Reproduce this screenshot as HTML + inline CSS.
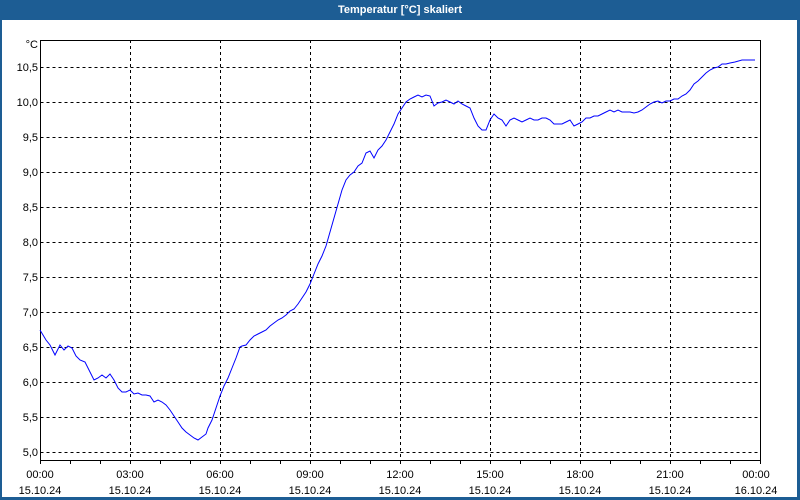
<!DOCTYPE html>
<html><head><meta charset="utf-8"><style>
html,body{margin:0;padding:0;background:#fff}
svg{display:block}
text{font-family:"Liberation Sans",sans-serif;font-size:11px;fill:#000}
</style></head><body>
<svg width="800" height="500" xmlns="http://www.w3.org/2000/svg">
<rect x="0" y="0" width="800" height="500" fill="#1d5d94"/>
<rect x="2" y="20" width="795" height="477" fill="#fff"/>
<text x="400" y="13" text-anchor="middle" style="fill:#fff;font-weight:bold">Temperatur [°C] skaliert</text>
<g stroke="#000" stroke-width="1" stroke-dasharray="3,3" fill="none">
<path d="M40.5 67.5H760M40.5 102.5H760M40.5 137.5H760M40.5 172.5H760M40.5 207.5H760M40.5 242.5H760M40.5 277.5H760M40.5 312.5H760M40.5 347.5H760M40.5 382.5H760M40.5 417.5H760M40.5 452.5H760"/>
<path d="M130.5 40V460M220.5 40V460M310.5 40V460M400.5 40V460M490.5 40V460M580.5 40V460M670.5 40V460"/>
</g>
<rect x="40.5" y="40.5" width="720" height="420" fill="none" stroke="#000"/>
<g stroke="#000">
<path d="M70.5 460v4M100.5 460v4M130.5 460v4M160.5 460v4M190.5 460v4M220.5 460v4M250.5 460v4M280.5 460v4M310.5 460v4M340.5 460v4M370.5 460v4M400.5 460v4M430.5 460v4M460.5 460v4M490.5 460v4M520.5 460v4M550.5 460v4M580.5 460v4M610.5 460v4M640.5 460v4M670.5 460v4M700.5 460v4M730.5 460v4M40.5 460v4M760.5 460v4"/>
</g>
<g text-anchor="end">
<text x="38" y="48">°C</text>
<text x="38" y="71">10,5</text><text x="38" y="106">10,0</text><text x="38" y="141">9,5</text><text x="38" y="176">9,0</text><text x="38" y="211">8,5</text><text x="38" y="246">8,0</text><text x="38" y="281">7,5</text><text x="38" y="316">7,0</text><text x="38" y="351">6,5</text><text x="38" y="386">6,0</text><text x="38" y="421">5,5</text><text x="38" y="456">5,0</text>
</g>
<g text-anchor="middle">
<text x="40" y="478">00:00</text><text x="40" y="494">15.10.24</text>
<text x="130" y="478">03:00</text><text x="130" y="494">15.10.24</text>
<text x="220" y="478">06:00</text><text x="220" y="494">15.10.24</text>
<text x="310" y="478">09:00</text><text x="310" y="494">15.10.24</text>
<text x="400" y="478">12:00</text><text x="400" y="494">15.10.24</text>
<text x="490" y="478">15:00</text><text x="490" y="494">15.10.24</text>
<text x="580" y="478">18:00</text><text x="580" y="494">15.10.24</text>
<text x="670" y="478">21:00</text><text x="670" y="494">15.10.24</text>
<text x="756" y="478">00:00</text><text x="756" y="494">16.10.24</text>
</g>
<polyline fill="none" stroke="#0000ff" stroke-width="1" points="40,330 46,340 50,345 55,355 60,345 64,350 68,346 72,348 76,356 80,360 85,362 90,372 94,380 98,378 102,375 106,378 110,374 114,380 118,388 122,392 126,392 130,390 134,394 138,393 142,395 146,395 150,396 154,402 158,400 162,402 166,405 170,410 174,416 178,422 182,428 186,432 190,435 194,438 198,440 202,437 206,434 208,428 212,420 216,408 220,396 224,386 228,378 232,368 236,358 240,347 242,346 246,345 250,340 254,336 258,334 262,332 266,330 270,326 274,323 278,320 282,318 286,315 290,311 294,309 298,304 302,298 306,292 310,284 314,274 318,264 322,256 326,246 330,232 334,218 338,204 342,190 346,180 350,175 354,172 358,166 362,163 366,153 370,151 374,158 378,150 382,146 386,140 390,132 394,124 398,114 402,108 406,102 410,99 414,97 418,95 422,97 426,95 430,96 434,106 438,103 442,102 446,100 450,102 454,104 458,101 462,104 466,106 470,108 474,118 478,126 482,130 486,130 490,120 494,114 498,118 502,120 506,126 510,120 514,118 518,120 522,122 526,120 530,118 534,120 538,120 542,118 546,118 550,120 554,124 558,124 562,124 566,122 570,120 574,126 578,124 582,122 586,118 590,118 594,116 598,116 602,114 606,112 610,110 614,112 618,110 622,112 626,112 630,112 634,113 638,112 642,110 646,107 650,104 654,102 658,101 662,103 666,101 670,101 674,99 678,99 682,96 686,94 690,90 694,84 698,81 702,77 706,73 710,70 714,68 718,67 722,64 726,64 730,63 735,62 742,60 752,60 755,60"/>
</svg>
</body></html>
